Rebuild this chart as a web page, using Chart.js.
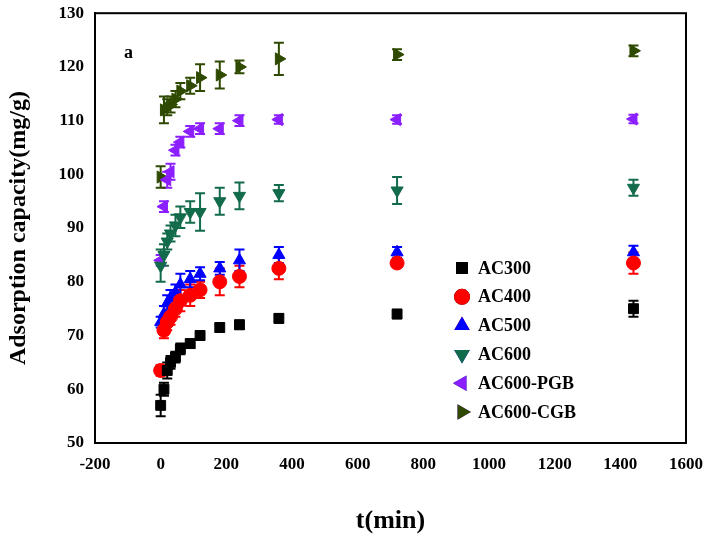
<!DOCTYPE html><html><head><script src="https://cdn.jsdelivr.net/npm/chart.js"></script>
<style>body{margin:0;background:#fff}#w{width:714px;height:541px}</style></head><body><div id="w"><canvas id="c"></canvas></div>
<script>
const times=[0,10,20,30,45,60,90,120,180,240,360,720,1440];
const names=['AC300','AC400','AC500','AC600','AC600-PGB','AC600-CGB'];
const ac300=[57,60,63.5,65,66,67.5,68.5,70,71.5,72,73.2,74,75];
const ac400=[63.5,71,72.5,73.5,75,76.5,77.5,78.5,80,81,82.5,83.5,83.5];
const ac500=[72.5,74,76,77,78,79.5,80.5,81.5,82.5,84,85,85.5,85.5];
const ac600=[83,85,87.5,89,90.5,92,93,93,95,96,96.5,97,97.5];
const pgb=[84,94,99,100.5,104.5,106,108,108.5,108.5,110,110.2,110.2,110.3];
const cgb=[99.5,112,112.5,113,114,115.5,116.5,118,118.5,120,121.5,122.3,123];
const errs=[[2,1.2,1.5,1.2,1,1,0.8,0.8,0.8,0.8,0.8,0.8,1.5],[1,1.5,1.5,1.5,1.5,2,2,1.5,2.5,2,2,0.5,2],[1,1.5,1.5,1.5,1.5,2,1.5,1.2,1.2,2,1.5,1,1.2],[3,2,1.5,1.5,2,2,2,3.5,2.5,2.5,1.5,2.5,1.5],[1,1,1.5,1.5,1,1,1,1,1,1,0.8,0.8,0.8],[2,2.5,1.5,1.5,1.5,1.5,1.5,2.5,2.5,1.2,3,1,1]];
const vals=[ac300,ac400,ac500,ac600,pgb,cgb];
const colors=['#000000','#ff0000','#0000ff','#126b4a','#8b1fff','#2f4a00'];
const styles=['rect','circle','triangle','triangle','triangle','triangle'];
const rots=[0,0,0,180,-90,90];
const F='Liberation Serif';
const eb={id:'eb',beforeDatasetsDraw(ch){const c=ch.ctx,y=ch.scales.y,x=ch.scales.x;c.save();c.lineWidth=2;
vals.forEach((v,i)=>{c.strokeStyle=colors[i];v.forEach((val,j)=>{const px=x.getPixelForValue(times[j]),t=y.getPixelForValue(val+errs[i][j]),b=y.getPixelForValue(val-errs[i][j]);
c.beginPath();c.moveTo(px,t);c.lineTo(px,b);c.moveTo(px-5,t);c.lineTo(px+5,t);c.moveTo(px-5,b);c.lineTo(px+5,b);c.stroke();});});c.restore();},
afterDraw(ch){const c=ch.ctx,a=ch.chartArea;c.save();c.strokeStyle='#000';c.lineWidth=2;c.strokeRect(a.left,a.top,a.right-a.left,a.bottom-a.top);
c.font="bold 18px "+F;c.textBaseline='middle';c.fillStyle='#000';c.fillText('a',124,53);
names.forEach((n,i)=>{const yy=268+i*28.8;Chart.helpers.drawPoint(c,{pointStyle:styles[i],rotation:rots[i],radius:7,borderWidth:1},462,yy);
c.fillStyle=colors[i];c.strokeStyle=colors[i];c.beginPath();Chart.helpers.drawPoint(c,{pointStyle:styles[i],rotation:rots[i],radius:7,borderWidth:1},462,yy);c.fillStyle='#000';c.fillText(n,478,yy+1);});c.restore();}};
new Chart(document.getElementById('c'),{type:'scatter',plugins:[eb],
data:{datasets:names.map((n,i)=>({label:n,data:times.map((t,j)=>({x:t,y:vals[i][j]})),backgroundColor:colors[i],borderColor:colors[i],pointStyle:styles[i],rotation:rots[i],pointRadius:7,pointHoverRadius:7}))},
options:{animation:false,responsive:true,maintainAspectRatio:false,layout:{padding:{top:12,right:28,bottom:0,left:0}},
plugins:{legend:{display:false},tooltip:{enabled:false}},
scales:{x:{min:-200,max:1600,afterFit(a){a.height=98},ticks:{stepSize:200,callback:v=>String(v),font:{family:F,weight:'bold',size:17},color:'#000'},grid:{display:false,drawTicks:true},border:{color:'#000',width:2},
title:{display:true,text:'t(min)',padding:{top:14},font:{family:F,weight:'bold',size:26},color:'#000'}},
y:{min:50,max:130,afterFit(a){a.width=95},ticks:{stepSize:10,font:{family:F,weight:'bold',size:17},color:'#000'},grid:{display:false},border:{color:'#000',width:2},
title:{display:true,text:'Adsorption capacity(mg/g)',font:{family:F,weight:'bold',size:24},color:'#000'}}}},
});
</script>
</body></html>
